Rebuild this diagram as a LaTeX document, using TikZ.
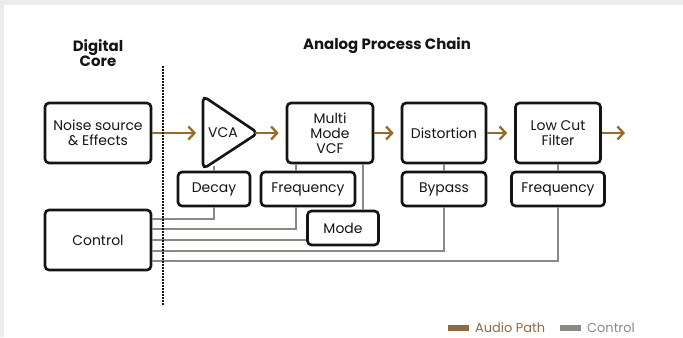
\documentclass[tikz,border=0pt]{standalone}
\usepackage{fontspec}
\setmainfont{Poppins}
\usetikzlibrary{arrows.meta}

\definecolor{audiobrown}{RGB}{155,107,38}
\definecolor{ctrlgray}{RGB}{138,137,132}
\definecolor{legendbrown}{RGB}{143,106,70}
\definecolor{bggray}{RGB}{237,236,234}
\definecolor{inkblack}{RGB}{20,20,20}

\begin{document}
\begin{tikzpicture}[x=1bp, y=-1bp,
    blk/.style={draw=inkblack, line width=2.6bp, rounded corners=4bp, fill=white,
      align=center, inner sep=0pt, text=inkblack, font=\fontsize{14}{15}\selectfont},
    heading/.style={align=center, text=inkblack, font=\fontsize{15}{15}\selectfont\bfseries},
    audio/.style={draw=audiobrown, line width=2.3bp,
      -{Straight Barb[length=6bp,width=13bp]}, shorten >=7bp},
    ctrl/.style={draw=ctrlgray, line width=2.2bp}]
      % page
      \fill [bggray] (0,0) rectangle (683,337);
      \fill [white] (4,5) rectangle (683,337);
      % headings
      \node [heading] (digital) at (98,53) {Digital\\Core};
      \node [heading] (analog) at (387,46) {Analog Process Chain};
      % vca triangle
      \draw [draw=inkblack, line width=2.6bp, rounded corners=5bp, fill=white]
        (203,133) -- (203,96) -- (258,133) -- (203,169) -- cycle;
      \node [text=inkblack, font=\fontsize{14}{15}\selectfont] (vca) at (223,133) {VCA};
      \coordinate (vcain) at (203,133);
      \coordinate (vcatip) at (255,133);
      \coordinate (vcafoot) at (214,166);
      \coordinate (out) at (632,133);
      % blocks
      \node [blk, minimum width=106bp, minimum height=60bp] (noise) at (98,133) {Noise source\\\& Effects};
      \node [blk, minimum width=86bp, minimum height=60bp] (vcf) at (330,133) {Multi\\Mode\\VCF};
      \node [blk, minimum width=84bp, minimum height=60bp] (dist) at (444,133) {Distortion};
      \node [blk, minimum width=85bp, minimum height=60bp] (lcf) at (558,133) {Low Cut\\Filter};
      \node [blk, minimum width=106bp, minimum height=60bp] (control) at (98,240) {Control};
      % parameters
      \node [blk, minimum width=72bp, minimum height=34bp] (decay) at (214,189) {Decay};
      \node [blk, minimum width=94bp, minimum height=34bp] (freqvcf) at (308,189) {Frequency};
      \node [blk, minimum width=71bp, minimum height=34bp] (mode) at (343,228) {Mode};
      \node [blk, minimum width=84bp, minimum height=34bp] (bypass) at (444,189) {Bypass};
      \node [blk, minimum width=93bp, minimum height=34bp] (freqlcf) at (558,189) {Frequency};
      % audio path
      \foreach \src/\dst in {noise.east/vcain, vcatip/vcf.west, vcf.east/dist.west,
                             dist.east/lcf.west, lcf.east/out}
        \draw [audio] (\src) -- (\dst);
      % control
      \draw [ctrl] ([yshift=21bp]control.east) -| (decay.south);
      \draw [ctrl] ([yshift=11bp]control.east) -| ([xshift=-12bp]freqvcf.south);
      \draw [ctrl] (control.east) -- (control.east -| mode.west);
      \draw [ctrl] ([yshift=-11bp]control.east) -| (bypass.south);
      \draw [ctrl] ([yshift=-21bp]control.east) -| (freqlcf.south);
      \draw [ctrl] (decay.north) -- (vcafoot);
      \draw [ctrl] ([xshift=-12bp]freqvcf.north) -- ([xshift=-12bp]freqvcf.north |- vcf.south);
      \draw [ctrl] ([xshift=33bp]vcf.south) -- ([xshift=33bp]vcf.south |- mode.north);
      \foreach \lo/\hi in {bypass/dist, freqlcf/lcf}
        \draw [ctrl] (\lo.north) -- (\hi.south);
      % domain border
      \draw [inkblack, line width=2bp, dash pattern=on 1.5bp off 1.5bp] (163,66) -- (163,306);
      % legend
      \fill [legendbrown] (448,325) rectangle (469,331);
      \node [anchor=west, inner sep=0pt, text=legendbrown, font=\fontsize{13}{13}\selectfont] (lgaudio) at (475,328) {Audio Path};
      \fill [ctrlgray] (560,325) rectangle (581,331);
      \node [anchor=west, inner sep=0pt, text=ctrlgray, font=\fontsize{13}{13}\selectfont] (lgctrl) at (587,328) {Control};
    \end{tikzpicture}
\end{document}
